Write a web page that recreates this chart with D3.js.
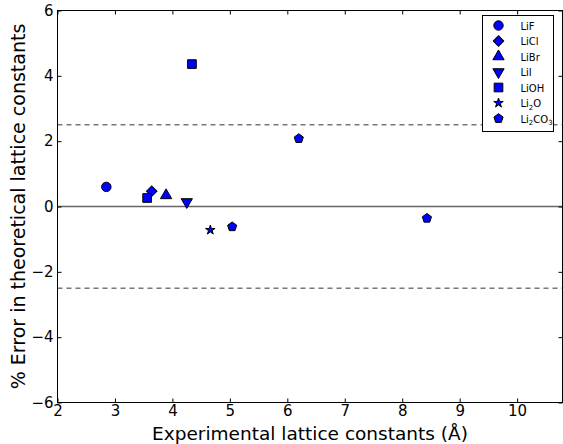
<!DOCTYPE html>
<html>
<head>
<meta charset="utf-8">
<script src="https://cdn.jsdelivr.net/npm/d3@7"></script>
<style>
  body { margin: 0; background: #fff; }
  svg text { font-family: "DejaVu Sans", sans-serif; }
</style>
</head>
<body>
<svg id="chart"></svg>
<script>
// compounds and their (experimental lattice constant, % error) points
const compounds = ["LiF", "LiCl", "LiBr", "LiI", "LiOH", "Li2O", "Li2CO3"];
const legendLabels = [["LiF"], ["LiCl"], ["LiBr"], ["LiI"], ["LiOH"], ["Li", "2", "O"], ["Li", "2", "CO", "3"]];
const expLattice = [[2.85], [3.64], [3.89], [4.25], [3.56, 4.34], [4.66], [5.04, 6.20, 8.43]];
const errorPct = [[0.60], [0.47], [0.34], [0.14], [0.26, 4.36], [-0.72], [-0.62, 2.08, -0.36]];
const xTicks = [2, 3, 4, 5, 6, 7, 8, 9, 10];
const yTicks = [-6, -4, -2, 0, 2, 4, 6];
const refLines = [2.5, -2.5];

const width = 563, height = 444;
const margin = { top: 10.5, right: 0.5, bottom: 41.5, left: 57.5 };

const pentagon = {
    draw(ctx, size) {
        const r = Math.sqrt(size / 2.378);
        for (let i = 0; i < 5; i++) {
            const a = -Math.PI / 2 + i * 2 * Math.PI / 5;
            const px = r * Math.cos(a), py = r * Math.sin(a);
            if (i === 0) ctx.moveTo(px, py); else ctx.lineTo(px, py);
        }
        ctx.closePath();
    }
};
const markerTypes = [d3.symbolCircle, d3.symbolSquare, d3.symbolTriangle, d3.symbolTriangle, d3.symbolSquare, d3.symbolStar, pentagon];
const markerSizes = [70, 55, 55, 55, 75, 28, 55];
const markerRotate = [0, 45, 0, 180, 0, 0, 0];

const x = d3.scaleLinear()
    .domain([2, 10.79])
    .range([margin.left, width - margin.right]);

const y = d3.scaleLinear()
    .domain([-6, 6])
    .range([height - margin.bottom, margin.top]);

const svg = d3.select("#chart")
    .attr("width", width)
    .attr("height", height);

// zero line
svg.append("line")
    .attr("x1", x(2)).attr("x2", x(10.79))
    .attr("y1", y(0)).attr("y2", y(0))
    .attr("stroke", "#666")
    .attr("stroke-width", 1.6);

// +/-2.5 % lines
svg.selectAll(".ref")
    .data(refLines)
    .join("line")
    .attr("class", "ref")
    .attr("x1", x(2)).attr("x2", x(10.79))
    .attr("y1", d => y(d)).attr("y2", d => y(d))
    .attr("stroke", "#333")
    .attr("stroke-width", 1)
    .attr("stroke-dasharray", "5,4");

// points
const points = [];
compounds.forEach((c, i) => {
    expLattice[i].forEach((v, j) => points.push({ i: i, x: v, y: errorPct[i][j] }));
});

svg.append("g")
    .selectAll("path")
    .data(points)
    .join("path")
    .attr("d", d => d3.symbol().type(markerTypes[d.i]).size(markerSizes[d.i])())
    .attr("transform", d => `translate(${x(d.x)},${y(d.y)}) rotate(${markerRotate[d.i]})`)
    .attr("fill", "#0000ff")
    .attr("stroke", "#000")
    .attr("stroke-width", 1);

// axes with inside ticks on all four sides
const fmt = d => d < 0 ? "\u2212" + Math.abs(d) : d;

svg.append("g")
    .attr("transform", `translate(0,${height - margin.bottom})`)
    .call(d3.axisBottom(x).tickValues(xTicks).tickFormat(fmt).tickSizeInner(-4).tickSizeOuter(0).tickPadding(3))
    .call(g => g.select(".domain").remove())
    .call(g => g.selectAll("text").attr("font-size", 15).attr("fill", "#000"));

svg.append("g")
    .attr("transform", `translate(0,${margin.top})`)
    .call(d3.axisTop(x).tickValues(xTicks).tickFormat("").tickSizeInner(-4).tickSizeOuter(0))
    .call(g => g.select(".domain").remove());

svg.append("g")
    .attr("transform", `translate(${margin.left},0)`)
    .call(d3.axisLeft(y).tickValues(yTicks).tickFormat(fmt).tickSizeInner(-4).tickSizeOuter(0).tickPadding(4))
    .call(g => g.select(".domain").remove())
    .call(g => g.selectAll("text").attr("font-size", 15).attr("fill", "#000"));

svg.append("g")
    .attr("transform", `translate(${width - margin.right},0)`)
    .call(d3.axisRight(y).tickValues(yTicks).tickFormat("").tickSizeInner(-4).tickSizeOuter(0))
    .call(g => g.select(".domain").remove());

svg.append("rect")
    .attr("x", margin.left).attr("y", margin.top)
    .attr("width", width - margin.left - margin.right)
    .attr("height", height - margin.top - margin.bottom)
    .attr("fill", "none")
    .attr("stroke", "#000")
    .attr("stroke-width", 1);

// axis labels
svg.append("text")
    .attr("x", (margin.left + width - margin.right) / 2)
    .attr("y", 440)
    .attr("text-anchor", "middle")
    .attr("font-size", 18.5)
    .text("Experimental lattice constants (\u00c5)");

svg.append("text")
    .attr("transform", `translate(25,${y(0)}) rotate(-90)`)
    .attr("text-anchor", "middle")
    .attr("font-size", 19)
    .text("% Error in theoretical lattice constants");

// legend
const legend = svg.append("g").attr("transform", "translate(482.5,15.5)");
legend.append("rect")
    .attr("width", 71).attr("height", 116)
    .attr("fill", "#fff")
    .attr("stroke", "#000")
    .attr("stroke-width", 1);

const rows = legend.selectAll(".row")
    .data(compounds)
    .join("g")
    .attr("class", "row")
    .attr("transform", (d, i) => `translate(0,${10 + i * 15.5})`);

rows.append("path")
    .attr("d", (d, i) => d3.symbol().type(markerTypes[i]).size(markerSizes[i])())
    .attr("transform", (d, i) => `translate(16,0) rotate(${markerRotate[i]})`)
    .attr("fill", "#0000ff")
    .attr("stroke", "#000");

rows.append("text")
    .attr("x", 38)
    .attr("y", 4)
    .attr("font-size", 10)
    .each(function (d, i) {
        const t = d3.select(this);
        legendLabels[i].forEach((part, k) => {
            const sub = k % 2 === 1;
            t.append("tspan")
                .attr("font-size", sub ? 7 : 10)
                .attr("dy", sub ? 2.5 : (k > 0 ? -2.5 : 0))
                .text(part);
        });
    });
</script>
</body>
</html>
